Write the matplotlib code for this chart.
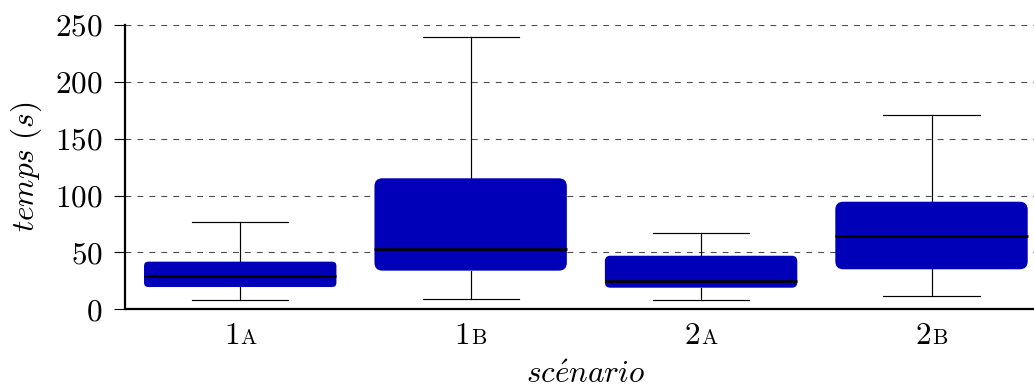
import matplotlib
matplotlib.use('Agg')
import matplotlib.pyplot as plt
from matplotlib.patches import FancyBboxPatch, BoxStyle
from matplotlib.offsetbox import TextArea, HPacker, AnnotationBbox

plt.rcParams['font.family'] = 'serif'
plt.rcParams['font.serif'] = ['cmr10']
plt.rcParams['mathtext.fontset'] = 'cm'
plt.rcParams['axes.formatter.use_mathtext'] = True
plt.rcParams['lines.scale_dashes'] = False

# valeurs (secondes)
scenarios = ['1', '1', '2', '2']
variantes = ['A', 'B', 'A', 'B']
whis_bas = [7.9, 9.0, 7.9, 12.0]
q1 = [19.6, 34.0, 19.0, 35.2]
mediane = [29.3, 52.8, 25.2, 64.5]
q3 = [41.9, 115.2, 47.1, 94.6]
whis_haut = [77.0, 239.5, 67.4, 170.9]
yticks = [0, 50, 100, 150, 200, 250]

bleu = '#0000b8'
W, H, DPI = 1034, 385, 100

fig = plt.figure(figsize=(W / DPI, H / DPI), dpi=DPI)
ax = fig.add_axes([0.1209, 0.1966, 0.8914, 0.7385])

stats = []
for i in range(len(scenarios)):
    stats.append(dict(whislo=whis_bas[i], q1=q1[i], med=mediane[i], q3=q3[i],
                      whishi=whis_haut[i], fliers=[]))

pos = [1, 2, 3, 4]
largeur = 0.835
ax.bxp(stats, positions=pos, widths=largeur, showbox=False, showfliers=False,
       capwidths=largeur / 2, manage_ticks=False,
       whiskerprops=dict(color='black', lw=0.85),
       capprops=dict(color='black', lw=0.85),
       medianprops=dict(color='black', lw=1.9, zorder=4))

ax.set_xlim(0.5, 4.5)
ax.set_ylim(0, 250)

# boites a coins arrondis
px_x = ax.get_position().width * W / 4.0
px_y = ax.get_position().height * H / 250.0
aspect = px_x / px_y
for p, a, b in zip(pos, q1, q3):
    h_px = (b - a) * px_y
    r = min(8.0, 0.17 * h_px) / px_x
    box = FancyBboxPatch((p - largeur / 2, a), largeur, b - a,
                         boxstyle=BoxStyle.Round(pad=0, rounding_size=r),
                         mutation_aspect=aspect, facecolor=bleu,
                         edgecolor='none', zorder=3)
    ax.add_patch(box)

ax.set_yticks(yticks)
ax.tick_params(axis='y', labelsize=22.5, length=8, width=0.8, pad=8)
ax.set_xticks([])
ax.grid(axis='y', color='0.3', lw=0.8, linestyle=(0, (4.2, 4.4)))
ax.set_axisbelow(True)
for s in ['top', 'right']:
    ax.spines[s].set_visible(False)
for s in ['left', 'bottom']:
    ax.spines[s].set_linewidth(1.6)

# etiquettes en petites capitales
for p, sc, v in zip(pos, scenarios, variantes):
    pack = HPacker(children=[TextArea(sc, textprops=dict(size=22.5)),
                             TextArea(v, textprops=dict(size=15.5))],
                   align='baseline', pad=0, sep=0.5)
    ab = AnnotationBbox(pack, (p, 0), xycoords=ax.get_xaxis_transform(),
                        xybox=(0, -9), boxcoords='offset points',
                        box_alignment=(0.5, 1), frameon=False, pad=0,
                        annotation_clip=False)
    ax.add_artist(ab)

ax.set_ylabel(r'$\it{temps\ (s)}$', fontsize=22.5, labelpad=8)
ax.set_xlabel(r'$\it{sc\acute{e}nario}$', fontsize=22.5, labelpad=37)

fig.savefig('out.png', dpi=DPI)
